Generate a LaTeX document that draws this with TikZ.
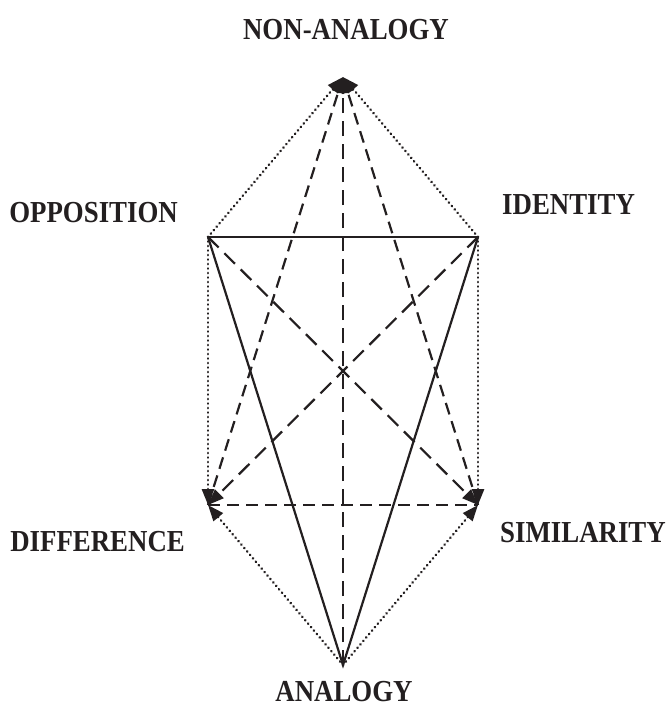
\documentclass[tikz,border=0pt]{standalone}
\usepackage{fontspec}
\setmainfont{Liberation Serif}[FakeStretch=0.88]
\usetikzlibrary{arrows.meta}
\definecolor{ink}{RGB}{35,31,32}
\tikzset{
  vlabel/.style={font=\fontsize{30.5}{32}\selectfont\bfseries, text=ink, inner sep=0pt},
  solidln/.style={line width=2.2pt, draw=ink},
  longdash/.style={line width=2.2pt, draw=ink, dash pattern=on 15pt off 8pt},
  shortdash/.style={line width=2.2pt, draw=ink, dash pattern=on 12pt off 7pt},
  dotln/.style={line width=2.8pt, draw=ink, line cap=round, dash pattern=on 0.1pt off 4.4pt},
  tip/.style={-{Triangle[length=16pt,width=12pt]}, ink},
}

\begin{document}
\begin{tikzpicture}[x=1pt, y=-1pt]
  \useasboundingbox (0,0) rectangle (665,709);

  % corners of the figure
  \coordinate (non) at (343,77);
  \coordinate (opp) at (208,237);
  \coordinate (ide) at (478,237);
  \coordinate (dif) at (208,505);
  \coordinate (sim) at (478,505);
  \coordinate (ana) at (343,665);

  % labels
  \node[vlabel] (lnon) at (346,30) {NON-ANALOGY};
  \node[vlabel, anchor=east] (lopp) at (178,213) {OPPOSITION};
  \node[vlabel, anchor=west] (lide) at (502,205) {IDENTITY};
  \node[vlabel, anchor=east] (ldif) at (185,542) {DIFFERENCE};
  \node[vlabel, anchor=west] (lsim) at (500,533) {SIMILARITY};
  \node[vlabel] (lana) at (344,692) {ANALOGY};

  % solid lines
  \draw[solidln] (opp) -- (ide);
  \draw[solidln] (opp) -- (ana) -- (ide);

  % dashed lines
  \draw[shortdash] (dif) -- (sim);
  \draw[longdash, tip] (opp) -- (sim);
  \draw[longdash, tip] (ide) -- (dif);
  \draw[longdash, tip] (ana) -- (non);
  \draw[shortdash, tip] (dif) -- (non);
  \draw[shortdash, tip] (sim) -- (non);

  % dotted lines
  \draw[dotln, tip] (opp) -- (non);
  \draw[dotln, tip] (ide) -- (non);
  \draw[dotln, tip] (opp) -- (dif);
  \draw[dotln, tip] (ide) -- (sim);
  \draw[dotln, tip] (ana) -- (dif);
  \draw[dotln, tip] (ana) -- (sim);
\end{tikzpicture}
\end{document}
